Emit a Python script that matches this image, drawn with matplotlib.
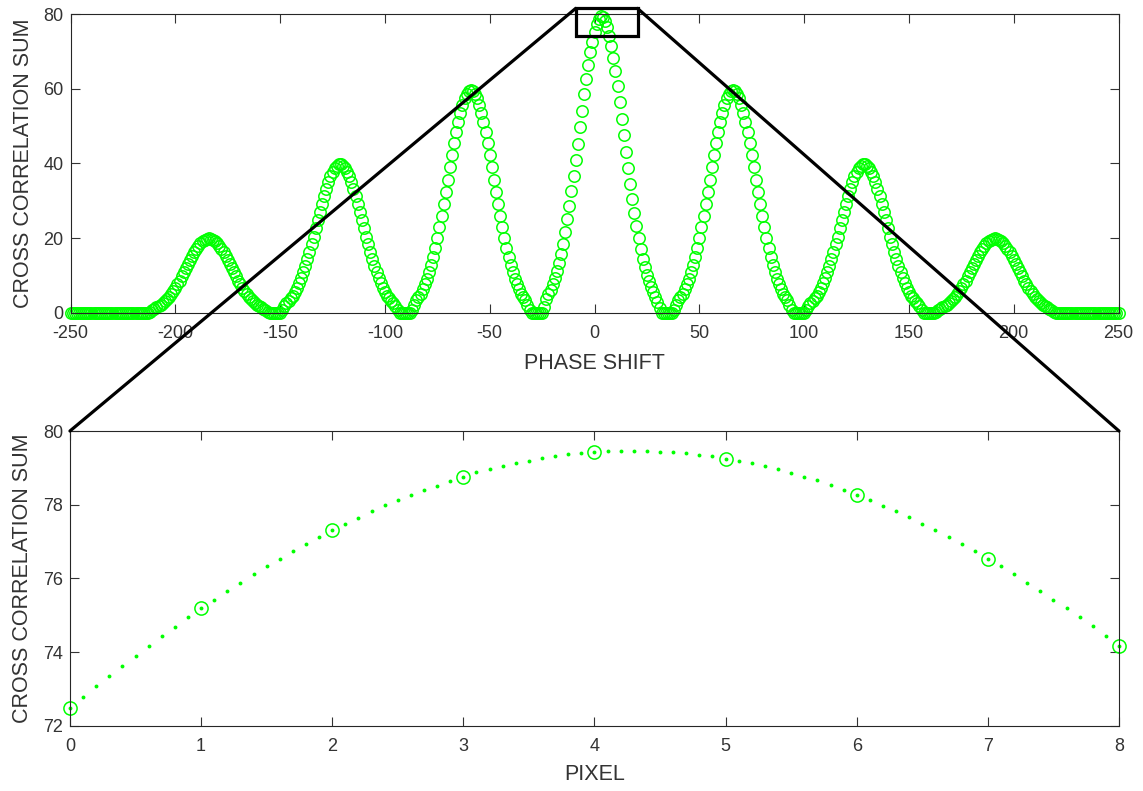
import numpy as np
import matplotlib.pyplot as plt
from matplotlib.patches import Rectangle, ConnectionPatch

plt.rcParams['font.family'] = ['Liberation Sans', 'DejaVu Sans']
plt.rcParams['axes.unicode_minus'] = False

# phase shift axis, one sample per shift
phase_shift = np.arange(-250, 251)

# first phase shift of each peak, and the values
peak_start = [-212, -149, -87, -24, 38, 101, 163]

peak_m3 = [0.2, 0.7, 1.1, 1.4, 1.7, 2.1, 2.5, 3.0, 3.6, 4.3, 5.0, 5.8, 6.7, 7.6, 8.6,
           9.7, 10.8, 11.9, 13.0, 14.1, 15.2, 16.2, 17.1, 17.9, 18.6, 19.2, 19.6, 19.8,
           19.9, 19.8, 19.6, 19.2, 18.6, 17.9, 17.1, 16.2, 15.2, 14.1, 13.0, 11.9, 10.8,
           9.7, 8.6, 7.6, 6.7, 5.8, 5.0, 4.3, 3.6, 3.0, 2.5, 2.1, 1.7, 1.4, 1.1, 0.7, 0.2]
peak_m2 = [0.8, 1.8, 2.5, 3.1, 3.8, 4.6, 5.6, 6.7, 7.9, 9.3, 10.8, 12.5, 14.3, 16.2,
           18.3, 20.4, 22.6, 24.9, 27.1, 29.2, 31.3, 33.2, 34.9, 36.5, 37.7, 38.7, 39.4,
           39.7, 39.7, 39.4, 38.7, 37.7, 36.5, 34.9, 33.2, 31.3, 29.2, 27.1, 24.9, 22.6,
           20.4, 18.3, 16.2, 14.3, 12.5, 10.8, 9.3, 7.9, 6.7, 5.6, 4.6, 3.8, 3.1, 2.5,
           1.8, 0.8]
peak_m1 = [0.7, 2.1, 3.3, 4.2, 5.1, 6.3, 7.6, 9.1, 10.9, 12.8, 15.0, 17.4, 20.0, 22.9,
           25.9, 29.0, 32.3, 35.6, 38.9, 42.2, 45.4, 48.4, 51.1, 53.6, 55.7, 57.4, 58.6,
           59.3, 59.6, 59.3, 58.6, 57.4, 55.7, 53.6, 51.1, 48.4, 45.4, 42.2, 38.9, 35.6,
           32.3, 29.0, 25.9, 22.9, 20.0, 17.4, 15.0, 12.8, 10.9, 9.1, 7.6, 6.3, 5.1, 4.2,
           3.3, 2.1, 0.7]
peak_0 = [1.6, 3.6, 5.0, 6.2, 7.6, 9.2, 11.1, 13.3, 15.8, 18.5, 21.6, 25.0, 28.6, 32.5,
          36.6, 40.9, 45.3, 49.7, 54.1, 58.5, 62.6, 66.4, 69.9, 72.5, 75.2, 77.3, 78.75,
          79.45, 79.25, 78.25, 76.55, 74.2, 71.5, 68.3, 64.6, 60.6, 56.3, 51.9, 47.5,
          43.1, 38.7, 34.5, 30.5, 26.8, 23.3, 20.0, 17.1, 14.5, 12.2, 10.1, 8.4, 6.9,
          5.6, 4.3, 2.8, 1.2]
peak_p1 = peak_m1
peak_p2 = peak_m2
peak_p3 = peak_m3

# zoomed view: sums at each pixel and the fitted curve every 0.1 pixel
pixel = [0, 1, 2, 3, 4, 5, 6, 7, 8]
pixel_sum = [72.50, 75.19, 77.31, 78.76, 79.43, 79.25, 78.26, 76.54, 74.18]
fit_sum = [72.50, 72.79, 73.08, 73.36, 73.63, 73.90, 74.17, 74.44, 74.69, 74.95,
           75.19, 75.43, 75.66, 75.88, 76.11, 76.33, 76.53, 76.74, 76.94, 77.13,
           77.31, 77.49, 77.65, 77.83, 77.98, 78.12, 78.26, 78.40, 78.52, 78.64,
           78.76, 78.88, 78.96, 79.05, 79.14, 79.20, 79.27, 79.33, 79.38, 79.41,
           79.43, 79.46, 79.47, 79.47, 79.46, 79.44, 79.43, 79.40, 79.36, 79.32,
           79.25, 79.19, 79.14, 79.05, 78.96, 78.87, 78.76, 78.66, 78.53, 78.40,
           78.26, 78.12, 77.97, 77.83, 77.66, 77.49, 77.31, 77.13, 76.94, 76.74,
           76.54, 76.34, 76.12, 75.89, 75.67, 75.43, 75.19, 74.96, 74.70, 74.44,
           74.18]
fit_pixel = np.linspace(0, 8, len(fit_sum))

corr_sum = np.zeros(len(phase_shift))
for start, vals in zip(peak_start, [peak_m3, peak_m2, peak_m1, peak_0, peak_p1, peak_p2, peak_p3]):
    i = start + 250
    corr_sum[i:i + len(vals)] = vals

green = '#00ff00'
txt = '#333333'

fig = plt.figure(figsize=(11.43, 7.91), dpi=100)
ax1 = fig.add_axes([0.0617, 0.6047, 0.9169, 0.3776])
ax2 = fig.add_axes([0.0612, 0.0822, 0.9178, 0.3729])

ax1.plot(phase_shift, corr_sum, 'o', color=green, mfc='none', ms=8.2, mew=1.1, clip_on=False)
ax1.set_xlim(-250, 250)
ax1.set_ylim(0, 80)
ax1.set_xticks(range(-250, 251, 50))
ax1.set_yticks(range(0, 81, 20))
ax1.set_xlabel('PHASE SHIFT', fontsize=15.5, color=txt, labelpad=8)
ax1.set_ylabel('CROSS CORRELATION SUM', fontsize=15.5, color=txt, labelpad=7)

ax2.plot(fit_pixel, fit_sum, 'o', color=green, ms=2.8, mew=0, clip_on=False)
ax2.plot(pixel, pixel_sum, 'o', color=green, mfc='none', ms=9.5, mew=1.1, clip_on=False)
ax2.set_xlim(0, 8)
ax2.set_ylim(72, 80)
ax2.set_xticks(range(0, 9))
ax2.set_yticks(range(72, 81, 2))
ax2.set_xlabel('PIXEL', fontsize=15.5, color=txt, labelpad=6)
ax2.set_ylabel('CROSS CORRELATION SUM', fontsize=15.5, color=txt, labelpad=7)

for ax in (ax1, ax2):
    ax.tick_params(direction='in', length=6.5, width=0.8, top=True, right=True,
                   labelsize=13, colors=txt)
    ax.tick_params(axis='x', pad=9)
    ax.tick_params(axis='y', pad=5)
    for s in ax.spines.values():
        s.set_color('#262626')
        s.set_linewidth(0.8)

# zoom box and the lines down to the lower plot
box = Rectangle((-9, 74.2), 29.5, 7.3, fill=False, ec='black', lw=2.3, clip_on=False, zorder=6)
ax1.add_patch(box)
for xa, xb in [(-9, 0), (20.5, 1)]:
    con = ConnectionPatch(xyA=(xa, 81.5), coordsA=ax1.transData,
                          xyB=(xb, 1), coordsB=ax2.transAxes,
                          color='black', lw=2.3, zorder=6)
    fig.add_artist(con)

fig.savefig('out.png', dpi=100)
